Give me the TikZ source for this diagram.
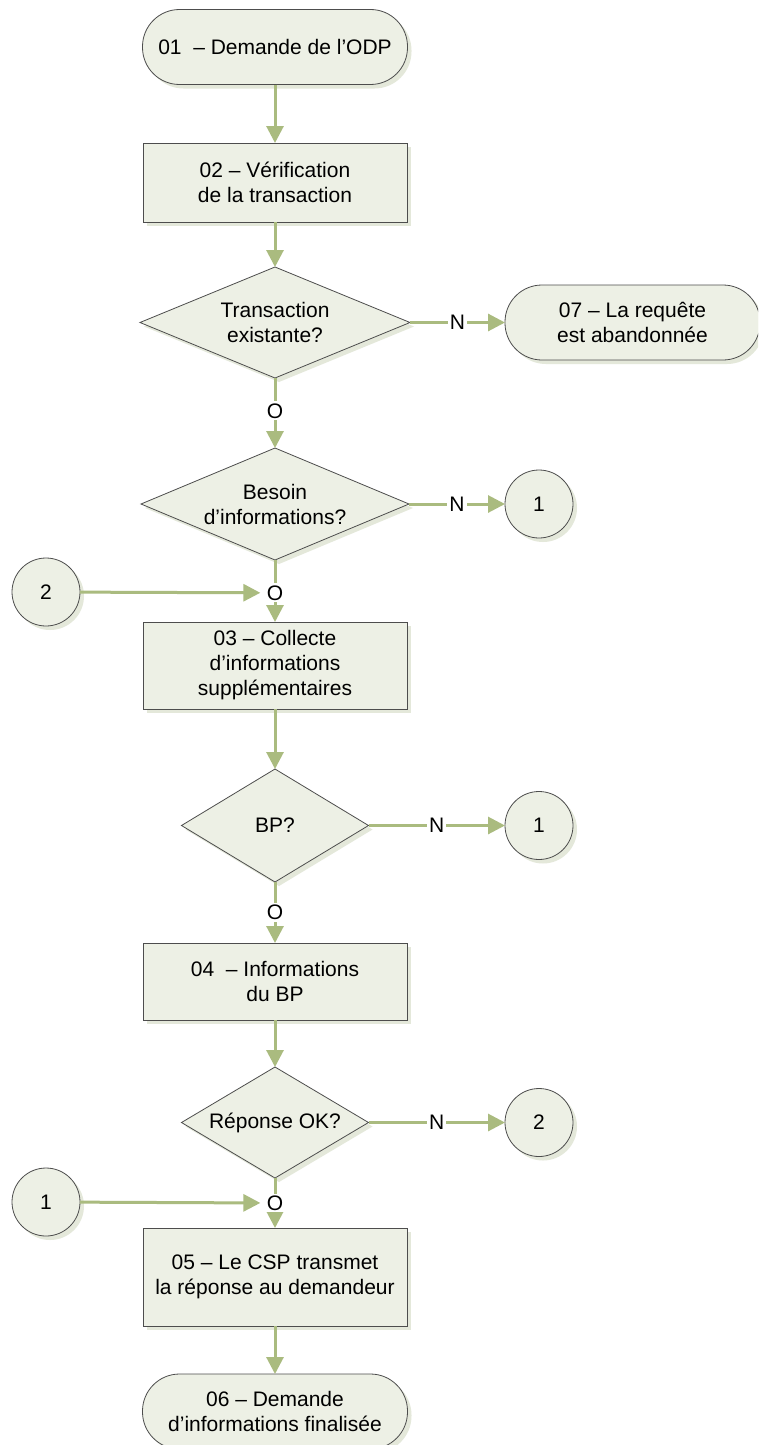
\documentclass[tikz,border=0pt]{standalone}
\usepackage{fontspec}
\setmainfont{Liberation Sans}
\usetikzlibrary{shapes.geometric,arrows.meta,shadows}

\definecolor{boxfill}{HTML}{EDF0E5}
\definecolor{boxline}{HTML}{4D4D4D}
\definecolor{flow}{HTML}{AABB7F}
\definecolor{shade}{HTML}{E4E8DA}

\begin{document}
\begin{tikzpicture}[x=1pt,y=-1pt,
  font=\fontsize{21}{25}\selectfont,
  base/.style={draw=boxline, line width=0.8pt, fill=boxfill, align=center,
    inner sep=0pt, outer sep=0pt,
    drop shadow={shadow xshift=4pt, shadow yshift=-4pt, fill=shade, opacity=1}},
  process/.style={base, rectangle, minimum width=264pt},
  terminal/.style={base, rectangle, rounded corners=37pt, minimum width=#1, minimum height=75pt},
  decision/.style={base, diamond, aspect=2.4},
  connector/.style={base, circle, minimum size=68pt},
  flowline/.style={draw=flow, line width=3pt, -{Triangle[length=17pt,width=17pt]}},
  lbl/.style={fill=white, inner sep=2pt},
]
\path[use as bounding box] (0,0) rectangle (758,1445);
\clip (0,0) rectangle (758,1445);
\fill[white] (0,0) rectangle (758,1445);

% main column
\node[terminal=265pt] (n01) at (275,47) {01\ \ – Demande de l’ODP};
\node[process, minimum height=79pt] (n02) at (275,182.5) {02 – Vérification\\de la transaction};
\node[decision, minimum width=270pt, minimum height=111pt] (d1) at (275,322.5) {Transaction\\existante?};
\node[terminal=255pt] (n07) at (632.5,322.5) {07 – La requête\\est abandonnée};
\node[decision, minimum width=268pt, minimum height=112pt] (d2) at (275,504) {Besoin\\d’informations?};
\node[connector] (c1a) at (539,504) {1};
\node[connector] (c2a) at (46,592) {2};
\node[process, minimum height=87pt] (n03) at (275,665.5) {03 – Collecte\\d’informations\\supplémentaires};
\node[decision, minimum width=187pt, minimum height=113pt] (d3) at (275,825.5) {BP?};
\node[connector] (c1b) at (539,825.5) {1};
\node[process, minimum height=77pt] (n04) at (275,981.5) {04\ \ – Informations\\du BP};
\node[decision, minimum width=187pt, minimum height=111pt] (d4) at (275,1122.5) {Réponse OK?};
\node[connector] (c2b) at (539,1122.5) {2};
\node[connector] (c1c) at (46,1202) {1};
\node[process, minimum height=98pt] (n05) at (275,1277) {05 – Le CSP transmet\\la réponse au demandeur};
\node[terminal=265pt] (n06) at (275,1411.5) {06 – Demande\\d’informations finalisée};

% connectors
\draw[flowline] (n01) -- (n02);
\draw[flowline] (n02) -- (d1);
\draw[flowline] (d1) -- node[lbl] {N} (n07);
\draw[flowline] (d1) -- node[lbl, pos=0.47] (o1) {O} (d2);
\draw[flowline] (d2) -- node[lbl] {N} (c1a);
\draw[flowline] (d2) -- node[lbl, pos=0.53] (o2) {O} (n03);
\draw[flowline, shorten >=3pt] (c2a) -- (o2);
\draw[flowline] (n03) -- (d3);
\draw[flowline] (d3) -- node[lbl] {N} (c1b);
\draw[flowline] (d3) -- node[lbl, pos=0.5] (o3) {O} (n04);
\draw[flowline] (n04) -- (d4);
\draw[flowline] (d4) -- node[lbl] {N} (c2b);
\draw[flowline] (d4) -- node[lbl, pos=0.5] (o4) {O} (n05);
\draw[flowline, shorten >=3pt] (c1c) -- (o4);
\draw[flowline] (n05) -- (n06);
\end{tikzpicture}
\end{document}
